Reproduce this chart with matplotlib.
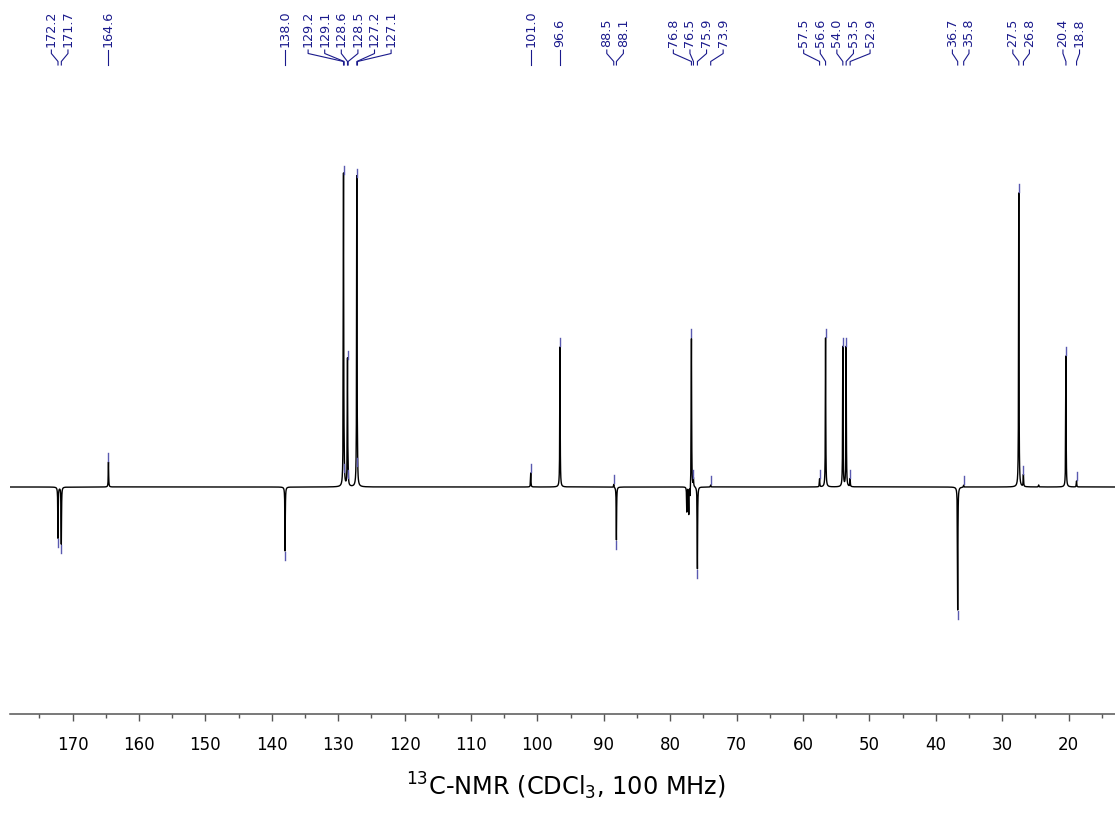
#!/usr/bin/env python3
"""13C-NMR (CDCl3, 100 MHz) spectrum with peak-pick labels."""
import numpy as np
import matplotlib
matplotlib.use("Agg")
import matplotlib.pyplot as plt

# picked peaks: shift (ppm) and signed intensity (arb. units, baseline = 0)
PEAK_PPM = [172.2, 171.7, 164.6, 138.0, 129.2, 129.1, 128.6, 128.5, 127.2, 127.1,
            101.0, 96.6, 88.5, 88.1, 76.8, 76.5, 75.9, 73.9,
            57.5, 56.6, 54.0, 53.5, 52.9, 36.7, 35.8, 27.5, 26.8, 20.4, 18.8]
PEAK_INT = [-51, -57, 25, -64, 312, 14, 127, 8, 309, 20,
            14, 140, 3, -53, 149, 8, -82, 2,
            8, 149, 140, 140, 8, -123, 2, 294, 12, 131, 6]

# signals not picked (solvent region, small bumps)
EXTRA_PPM = [77.5, 77.2, 77.0, 24.5]
EXTRA_INT = [-25, -28, -12, 2]

XTICKS = [170, 160, 150, 140, 130, 120, 110, 100, 90, 80, 70, 60, 50, 40, 30, 20]
TITLE = r"$^{13}$C-NMR (CDCl$_3$, 100 MHz)"

LABEL_COLOR = "#1a1a8c"
MARK_COLOR = "#5a5ab0"


def spread(ppms, gap):
    # push labels apart so neighbours are at least `gap` ppm apart
    pos = list(ppms)
    groups = [[i] for i in range(len(pos))]
    changed = True
    while changed:
        changed = False
        centers = []
        for g in groups:
            c = np.mean([ppms[i] for i in g])
            n = len(g)
            centers.append([c + gap * ((n - 1) / 2 - k) for k in range(n)])
        for j in range(len(groups) - 1):
            if centers[j][-1] - centers[j + 1][0] < gap - 1e-9:
                groups[j] = groups[j] + groups[j + 1]
                del groups[j + 1]
                changed = True
                break
    for g in groups:
        c = np.mean([ppms[i] for i in g])
        n = len(g)
        for k, i in enumerate(g):
            pos[i] = c + gap * ((n - 1) / 2 - k)
    return pos


def main():
    fig = plt.figure(figsize=(11.15, 8.25), dpi=100)
    ax = fig.add_axes([10 / 1115, 111 / 825, 1105 / 1115, 714 / 825])
    x0, x1 = 179.43, 13.01
    ax.set_xlim(x0, x1)
    ax.set_ylim(-227, 487)

    ppm = np.arange(13.0, 179.45, 0.005)
    g = 0.035
    y = np.zeros_like(ppm)
    for p, h in zip(PEAK_PPM + EXTRA_PPM, PEAK_INT + EXTRA_INT):
        y += h * g ** 2 / ((ppm - p) ** 2 + g ** 2)
    ax.plot(ppm, y, color="black", lw=1.0)

    # peak markers
    for p, h in zip(PEAK_PPM, PEAK_INT):
        if h >= 0:
            ax.plot([p, p], [h + 1, h + 9], color=MARK_COLOR, lw=1.0)
        else:
            ax.plot([p, p], [h - 1, h - 9], color=MARK_COLOR, lw=1.0)

    # labels on top with connectors (data y = 487 - pixel row)
    ppx = 1105 / (x0 - x1)
    lab = spread(PEAK_PPM, 16.6 / ppx)
    for p, lp in zip(PEAK_PPM, lab):
        ax.text(lp, 487 - 47, f"{p:.1f}", rotation=90, ha="center", va="bottom",
                fontsize=9.2, color=LABEL_COLOR, clip_on=False)
        ax.plot([lp, lp, p, p], [487 - 50, 487 - 53.5, 487 - 61.5, 487 - 65],
                color=LABEL_COLOR, lw=0.8, clip_on=False)

    for s in ("top", "left", "right"):
        ax.spines[s].set_visible(False)
    ax.spines["bottom"].set_color("#555555")
    ax.spines["bottom"].set_linewidth(1.1)
    ax.set_yticks([])
    ax.set_xticks(XTICKS)
    ax.set_xticklabels([str(t) for t in XTICKS])
    ax.set_xticks(np.arange(175, 13, -10), minor=True)
    ax.tick_params(axis="x", which="major", length=5, width=1.0, color="#555555",
                   labelsize=12, pad=11)
    ax.tick_params(axis="x", which="minor", length=3, width=1.0, color="#555555")

    fig.text(566 / 1115, 1 - 786 / 825, TITLE, ha="center", va="center", fontsize=17.3)
    fig.savefig("out.png", dpi=100)


if __name__ == "__main__":
    main()
